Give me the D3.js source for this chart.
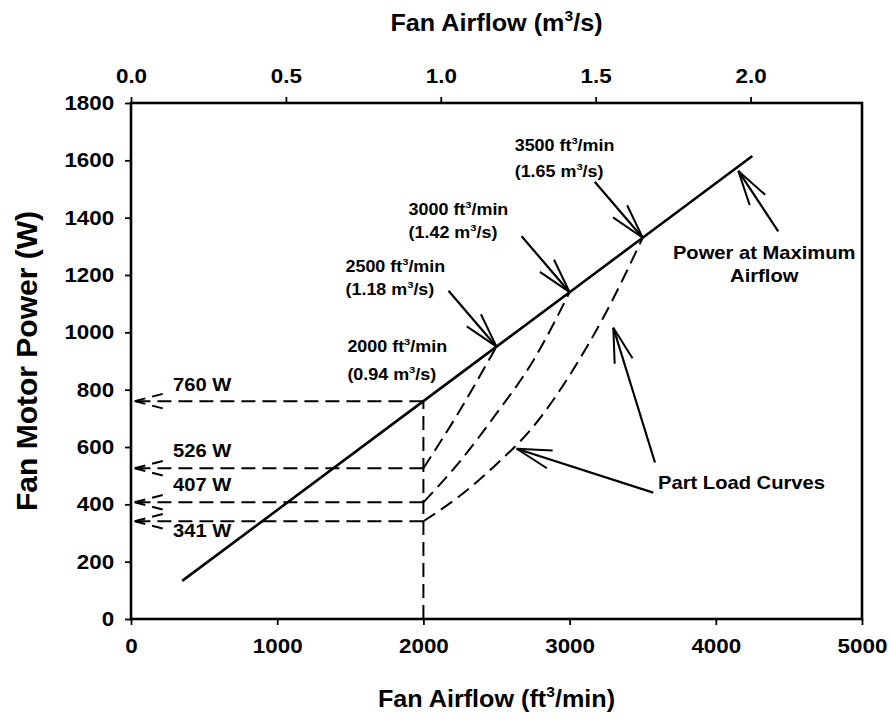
<!DOCTYPE html>
<html>
<head>
<meta charset="utf-8">
<script src="https://cdn.jsdelivr.net/npm/d3@7"></script>
<style>
  body { margin: 0; background: #fff; }
  text { font-family: "Liberation Sans", Arial, sans-serif; font-weight: bold; fill: #000; }
</style>
</head>
<body>
<svg id="chart" width="891" height="719"></svg>
<script>
// ---- data (airflow in ft³/min, power in W) ----
const xTickValues = [0, 1000, 2000, 3000, 4000, 5000];
const yTickValues = [0, 200, 400, 600, 800, 1000, 1200, 1400, 1600, 1800];
const metricTickValues = [0.0, 0.5, 1.0, 1.5, 2.0];
const CFM_PER_M3S = 2118.88;

// power drawn at full fan speed
const maxFlow  = [350, 2000, 2500, 3000, 3500, 4250];
const maxPower = [133, 760, 950, 1140, 1330, 1615];

// part load curves, each running down to 2000 ft³/min
const partFlowA  = [2000, 2125, 2250, 2375, 2500];
const partPowerA = [526, 625, 728, 838, 950];
const partFlowB  = [2000, 2250, 2500, 2750, 3000];
const partPowerB = [407, 550, 717, 900, 1140];
const partFlowC  = [2000, 2250, 2500, 2750, 3000, 3250, 3500];
const partPowerC = [341, 430, 540, 670, 850, 1070, 1330];

// power read at 2000 ft³/min
const readFlow = 2000;
const readPower  = [760, 526, 407, 341];
const readLabels = ["760 W", "526 W", "407 W", "341 W"];

// design points along the full-speed line
const designFlow   = [2000, 2500, 3000, 3500];
const designPower  = [760, 950, 1140, 1330];
const designMetric = ["0.94", "1.18", "1.42", "1.65"];

// ---- layout ----
const svg = d3.select("#chart");
const plot = { left: 131, right: 862, top: 103, bottom: 619 };
const SX = 1.12; // horizontal stretch of the lettering

const x  = d3.scaleLinear().domain([0, 5000]).range([plot.left, plot.right]);
const xm = d3.scaleLinear().domain([0, 5000 / CFM_PER_M3S]).range([plot.left, plot.right]);
const y  = d3.scaleLinear().domain([0, 1800]).range([plot.bottom, plot.top]);

// text with optional superscript pieces, stretched horizontally
function label(parent, px, py, anchor, size, parts, stretch = SX) {
  const g = parent.append("g").attr("transform", `translate(${px},${py}) scale(${stretch},1)`);
  const t = g.append("text").attr("text-anchor", anchor).style("font-size", size + "px");
  let raised = 0;
  parts.forEach(p => {
    const sup = Array.isArray(p);
    const s = sup ? p[0] : p;
    const target = sup ? -size * 0.42 : 0;
    t.append("tspan")
      .attr("dy", target - raised)
      .style("font-size", (sup ? size * 0.62 : size) + "px")
      .text(s);
    raised = target;
  });
  return g;
}

// ---- axes ----
const axisStyle = g => {
  g.select(".domain").remove();
  g.selectAll(".tick line").attr("stroke", "#000").attr("stroke-width", 1.8);
  g.selectAll(".tick text").style("font-size", "20px").attr("fill", "#000");
};

svg.append("g")
  .attr("transform", `translate(0,${plot.bottom})`)
  .call(d3.axisBottom(x).tickValues(xTickValues).tickSize(6).tickPadding(14).tickFormat(d3.format("d")))
  .call(axisStyle)
  .selectAll(".tick text").attr("transform", `scale(${SX},1)`);

svg.append("g")
  .attr("transform", `translate(0,${plot.top})`)
  .call(d3.axisTop(xm).tickValues(metricTickValues).tickSize(6).tickPadding(14).tickFormat(d3.format(".1f")))
  .call(axisStyle)
  .selectAll(".tick text").attr("transform", `scale(${SX},1)`);

svg.append("g")
  .attr("transform", `translate(${plot.left},0)`)
  .call(d3.axisLeft(y).tickValues(yTickValues).tickSize(6).tickPadding(9).tickFormat(d3.format("d")))
  .call(axisStyle)
  .selectAll(".tick text").attr("transform", `scale(${SX},1)`);

// frame
svg.append("rect")
  .attr("x", plot.left).attr("y", plot.top)
  .attr("width", plot.right - plot.left).attr("height", plot.bottom - plot.top)
  .attr("fill", "none").attr("stroke", "#000").attr("stroke-width", 2.6);

// axis titles
label(svg, (plot.left + plot.right) / 2, 31, "middle", 24, ["Fan Airflow (m", ["3"], "/s)"], 1.05);
label(svg, (plot.left + plot.right) / 2, 707, "middle", 24, ["Fan Airflow (ft", ["3"], "/min)"], 1.05);
svg.append("text")
  .attr("transform", `translate(37,${(plot.top + plot.bottom) / 2}) rotate(-90)`)
  .attr("text-anchor", "middle")
  .style("font-size", "30px")
  .text("Fan Motor Power (W)");

// ---- lines ----
const line = d3.line().x(d => x(d[0])).y(d => y(d[1]));
const curve = d3.line().x(d => x(d[0])).y(d => y(d[1])).curve(d3.curveMonotoneX);
const DASH = "14,7";

svg.append("path")
  .attr("d", line(d3.zip(maxFlow, maxPower)))
  .attr("fill", "none").attr("stroke", "#000").attr("stroke-width", 2.6);

[[partFlowA, partPowerA], [partFlowB, partPowerB], [partFlowC, partPowerC]].forEach(([f, p]) => {
  svg.append("path")
    .attr("d", curve(d3.zip(f, p)))
    .attr("fill", "none").attr("stroke", "#000").attr("stroke-width", 2)
    .attr("stroke-dasharray", DASH);
});

// vertical drop at 2000 ft³/min
svg.append("path")
  .attr("d", line([[readFlow, 0], [readFlow, readPower[0]]]))
  .attr("fill", "none").attr("stroke", "#000").attr("stroke-width", 2)
  .attr("stroke-dasharray", DASH);

// arrowhead made of two arms
function arrowHead(tip, toward, len, halfAngle, dashed) {
  const ang = Math.atan2(toward[1] - tip[1], toward[0] - tip[0]);
  [-halfAngle, halfAngle].forEach(a => {
    const end = [tip[0] + len * Math.cos(ang + a), tip[1] + len * Math.sin(ang + a)];
    const p = svg.append("path")
      .attr("d", `M${tip[0]},${tip[1]}L${end[0]},${end[1]}`)
      .attr("fill", "none").attr("stroke", "#000").attr("stroke-width", 2);
    if (dashed) p.attr("stroke-dasharray", "11,7");
  });
}

function arrow(tail, tip) {
  svg.append("path")
    .attr("d", `M${tail[0]},${tail[1]}L${tip[0]},${tip[1]}`)
    .attr("fill", "none").attr("stroke", "#000").attr("stroke-width", 2.2);
  arrowHead(tip, tail, 36, 15 * Math.PI / 180, false);
}

// power read-outs carried to the power axis
const readLabelDy = [-10, -11, -11, 16];
readPower.forEach((p, i) => {
  const py = y(p);
  const tipX = x(25);
  svg.append("path")
    .attr("d", `M${x(readFlow)},${py}L${tipX},${py}`)
    .attr("fill", "none").attr("stroke", "#000").attr("stroke-width", 2)
    .attr("stroke-dasharray", DASH);
  arrowHead([tipX, py], [tipX + 10, py], 33, 14.5 * Math.PI / 180, true);
  label(svg, plot.left + 42, py + readLabelDy[i], "start", 18, [readLabels[i]]);
});

// design point labels and pointers
const designLabelOffset = [[-76, -49, -21], [-151, -75, -52], [-161, -77, -54], [-128, -87, -61]];
designFlow.forEach((f, i) => {
  const px = x(f), py = y(designPower[i]);
  const [dx, dy1, dy2] = designLabelOffset[i];
  label(svg, px + dx, py + dy1, "start", 16, [`${f} ft`, ["3"], "/min"]);
  label(svg, px + dx, py + dy2, "start", 16, [`(${designMetric[i]} m`, ["3"], "/s)"]);
  if (i > 0) arrow([px - 48, py - 56], [px, py]);
});

// power at maximum airflow
arrow([x(4427), y(1352)], [x(4154), y(1563)]);
label(svg, x(4427) - 14, y(1352) + 28, "middle", 18, ["Power at Maximum"]);
label(svg, x(4427) - 14, y(1352) + 51, "middle", 18, ["Airflow"]);

// part load curves callout
arrow([x(3584), y(546)], [x(3299), y(1016)]);
arrow([x(3572), y(441)], [x(2638), y(594)]);
label(svg, x(3605), y(453), "start", 18, ["Part Load Curves"]);
</script>
</body>
</html>
